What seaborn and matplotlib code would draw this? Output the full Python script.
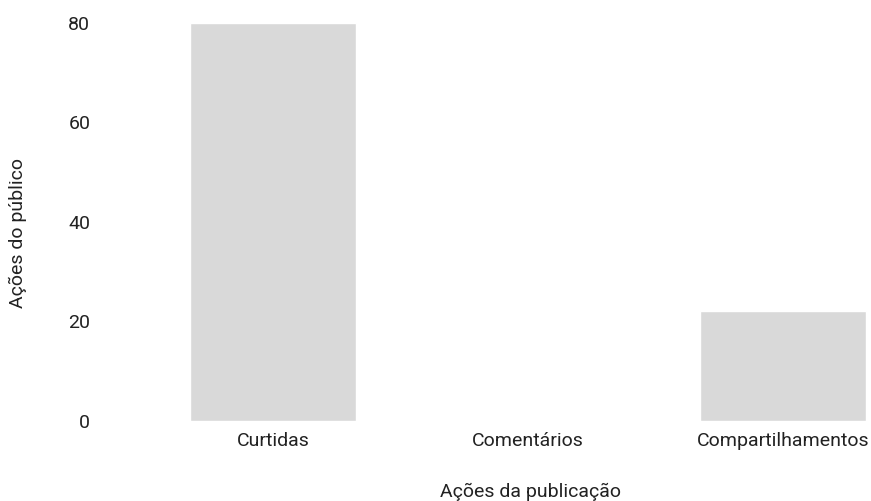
import pandas as pd
import matplotlib.pyplot as plt
import seaborn as sns

# data
categorias = ['Curtidas', 'Comentários', 'Compartilhamentos']
valores = [80, 0, 22]
yticks = [0, 20, 40, 60, 80]

df = pd.DataFrame({'acao': categorias, 'valor': valores})

sns.set_theme(style='white')
plt.rcParams['font.family'] = ['Roboto', 'DejaVu Sans']
texto = '#222222'

fig = plt.figure(figsize=(8.71, 5.01), dpi=100)
# axes placed in pixel terms of the reference (left 100px, bottom 421px, top 22.5px)
ax = fig.add_axes([100 / 871, 80 / 501, 771 / 871, 398.5 / 501])

sns.barplot(data=df, x='acao', y='valor', color='#d9d9d9', width=0.65,
            saturation=1, ax=ax)

ax.set_xlim(-0.678, 2.345)
ax.set_ylim(0, 80)
ax.set_yticks(yticks)
sns.despine(ax=ax, left=True, bottom=True)
ax.grid(False)
ax.tick_params(axis='both', length=0, labelsize=14, labelcolor=texto)
ax.tick_params(axis='y', pad=7)
ax.tick_params(axis='x', pad=8)

ax.set_xlabel('Ações da publicação', fontsize=14, color=texto)
ax.set_ylabel('Ações do público', fontsize=14, color=texto)
ax.xaxis.set_label_coords((530 - 100) / 771, -(492 - 421) / 398.5)
ax.yaxis.set_label_coords((18 - 100) / 771, (421 - 233) / 398.5)
ax.xaxis.label.set_va('center')
ax.yaxis.label.set_va('center')

fig.savefig('out.png', dpi=100, facecolor='white')
